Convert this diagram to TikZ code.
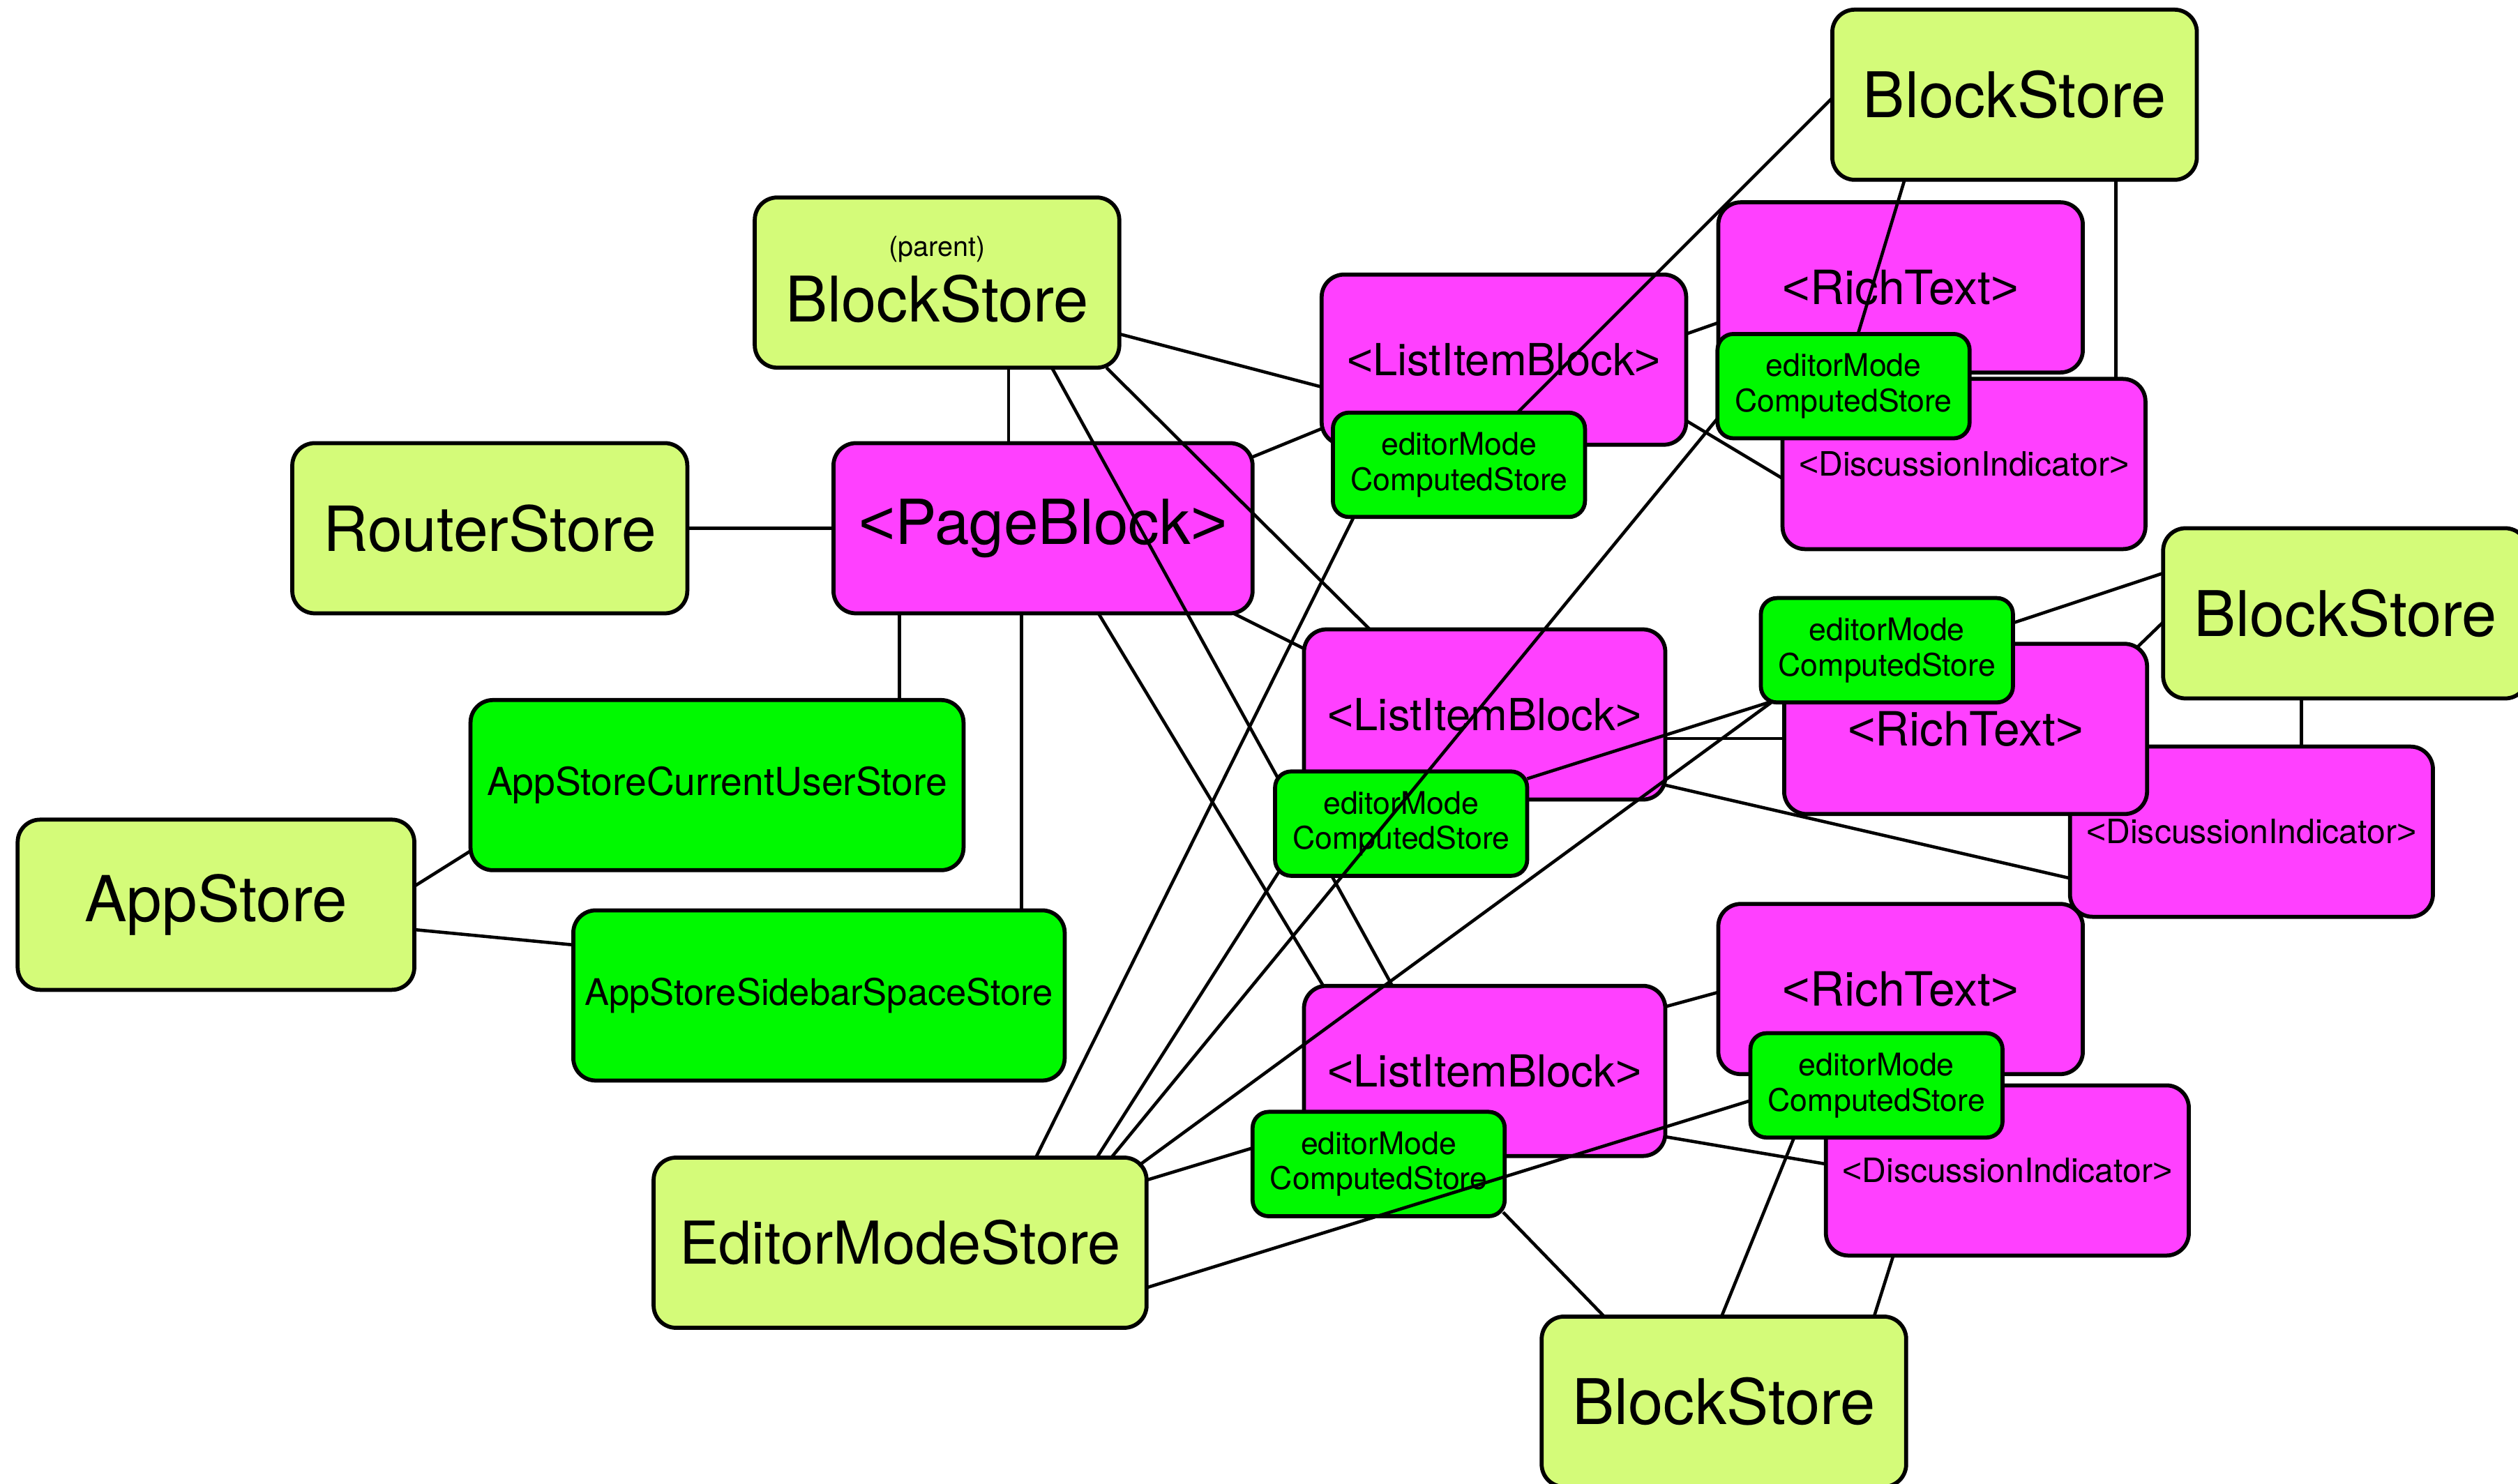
\documentclass[tikz,border=0pt]{standalone}
\usepackage{fontspec}
\setmainfont{TeX Gyre Heros}
\newfontfamily\bracketfont{Liberation Sans}
\newcommand{\LTs}{{\bracketfont<}}
\newcommand{\GTs}{{\bracketfont>}}
\definecolor{honeydew}{HTML}{D4FB79}
\definecolor{magentaC}{HTML}{FF40FF}
\definecolor{springC}{HTML}{00F900}
\begin{document}
\begin{tikzpicture}[x=1pt,y=-1pt,
  box/.style={draw=black, line width=2.5pt, rounded corners=14pt, inner sep=0pt, align=center, text=black},
  store/.style={box, fill=honeydew, minimum width=227pt, minimum height=106pt, font=\fontsize{39.2}{44}\selectfont},
  comp/.style={box, fill=magentaC, minimum width=227pt, minimum height=106pt},
  libtxt/.style={font=\fontsize{27.5}{32}\selectfont},
  rttxt/.style={font=\fontsize{29.4}{33}\selectfont},
  disctxt/.style={font=\fontsize{20.9}{24}\selectfont},
  sub/.style={box, fill=springC, minimum width=307pt, minimum height=106pt},
  emcs/.style={box, fill=springC, rounded corners=10pt, minimum width=157pt, minimum height=65pt, font=\fontsize{19.4}{22}\selectfont},
  link/.style={draw=black, line width=2pt}
]
\useasboundingbox (0,0) rectangle (1568,924);
% stores (lime)
\node[store] (pbs) at (583.5,176) {{\fontsize{17.2}{18}\selectfont (parent)}\\[-3pt]BlockStore\rule[-4.5pt]{0pt}{1pt}};
\node[store, minimum width=246pt, font=\fontsize{38.8}{44}\selectfont] (router) at (305,329) {RouterStore};
\node[store, minimum width=247pt, font=\fontsize{39.5}{44}\selectfont] (app) at (134.5,563.5) {AppStore};
\node[store, minimum width=307pt, font=\fontsize{36.8}{42}\selectfont] (ems) at (560.5,774) {EditorModeStore};
\node[store] (bs1) at (1254.5,59) {BlockStore};
\node[store] (bs2) at (1460.5,382) {BlockStore};
\node[store] (bs3) at (1073.5,873) {BlockStore};
% components (magenta)
\node[comp, minimum width=261pt, font=\fontsize{38.7}{44}\selectfont] (page) at (649.5,329) {\LTs PageBlock\GTs};
\node[comp, libtxt] (lib1) at (936.5,224) {\LTs ListItemBlock\GTs};
\node[comp, libtxt, minimum width=225pt] (lib2) at (924.5,445) {\LTs ListItemBlock\GTs};
\node[comp, libtxt, minimum width=225pt] (lib3) at (924.5,667) {\LTs ListItemBlock\GTs};
\node[comp, disctxt, minimum width=226pt] (di1) at (1223,289) {\LTs DiscussionIndicator\GTs};
\node[comp, rttxt] (rt1) at (1183.5,179) {\LTs RichText\GTs};
\node[comp, disctxt, minimum width=226pt] (di2) at (1402,518) {\LTs DiscussionIndicator\GTs};
\node[comp, rttxt, minimum width=226pt] (rt2) at (1224,454) {\LTs RichText\GTs};
\node[comp, disctxt, minimum width=226pt] (di3) at (1250,729) {\LTs DiscussionIndicator\GTs};
\node[comp, rttxt] (rt3) at (1183.5,616) {\LTs RichText\GTs};
% computed stores (green)
\node[sub, font=\fontsize{24}{28}\selectfont] (cus) at (446.5,489) {AppStoreCurrentUserStore};
\node[sub, minimum width=306pt, font=\fontsize{22.8}{27}\selectfont] (side) at (510,620) {AppStoreSidebarSpaceStore};
\node[emcs] (e1) at (908.5,289.5) {editorMode\\ComputedStore};
\node[emcs] (e2) at (1148,240.5) {editorMode\\ComputedStore};
\node[emcs] (e4) at (1175,405) {editorMode\\ComputedStore};
\node[emcs] (e5) at (858.5,725) {editorMode\\ComputedStore};
\node[emcs] (e6) at (1168.5,676) {editorMode\\ComputedStore};
% line passing under e3
\draw[link] ([shift={(71.5,53)}]pbs.center) -- ([shift={(-57.5,-53)}]lib3.center);
\node[emcs] (e3) at (872.5,513) {editorMode\\ComputedStore};
% connectors
\draw[link] ([shift={(44.5,53)}]pbs.center) -- ([shift={(-21.5,-53)}]page.center);
\draw[link] ([shift={(113.5,32)}]pbs.center) -- ([shift={(-113.5,17)}]lib1.center);
\draw[link] ([shift={(105.5,53)}]pbs.center) -- ([shift={(-71.5,-53)}]lib2.center);
\draw[link] ([shift={(123,0)}]router.center) -- ([shift={(-130.5,0)}]page.center);
\draw[link] ([shift={(129.5,-44)}]page.center) -- ([shift={(-113.5,43)}]lib1.center);
\draw[link] ([shift={(-89.5,53)}]page.center) -- ([shift={(113.5,-53)}]cus.center);
\draw[link] ([shift={(-13.5,53)}]page.center) -- ([shift={(126,-53)}]side.center);
\draw[link] ([shift={(34.5,53)}]page.center) -- ([shift={(-100.5,-53)}]lib3.center);
\draw[link] ([shift={(118.5,53)}]page.center) -- ([shift={(-112.5,-41)}]lib2.center);
\draw[link] ([shift={(123.5,-11.5)}]app.center) -- ([shift={(-153.5,41)}]cus.center);
\draw[link] ([shift={(123.5,15.5)}]app.center) -- ([shift={(-153,-31.5)}]side.center);
\draw[link] ([shift={(84.5,-53)}]ems.center) -- ([shift={(-65.5,32.5)}]e1.center);
\draw[link] ([shift={(122.5,-53)}]ems.center) -- ([shift={(-75.5,29)}]e3.center);
\draw[link] ([shift={(131.5,-53)}]ems.center) -- ([shift={(-78,19.5)}]e2.center);
\draw[link] ([shift={(148.5,-48)}]ems.center) -- ([shift={(-72,32.5)}]e4.center);
\draw[link] ([shift={(153.5,-39)}]ems.center) -- ([shift={(-78.5,-10)}]e5.center);
\draw[link] ([shift={(153.5,28)}]ems.center) -- ([shift={(-78.5,9.5)}]e6.center);
\draw[link] ([shift={(-113.5,2)}]bs1.center) -- ([shift={(36.5,-32.5)}]e1.center);
\draw[link] ([shift={(-68.5,53)}]bs1.center) -- ([shift={(9,-32.5)}]e2.center);
\draw[link] ([shift={(63,53)}]bs1.center) -- ([shift={(94.5,-53)}]di1.center);
\draw[link] ([shift={(-113.5,-25)}]bs2.center) -- ([shift={(78.5,-17)}]e4.center);
\draw[link] ([shift={(-113.5,5.5)}]bs2.center) -- ([shift={(107,-51)}]rt2.center);
\draw[link] ([shift={(-27.5,53)}]bs2.center) -- ([shift={(31,-53)}]di2.center);
\draw[link] ([shift={(77.5,30)}]e5.center) -- ([shift={(-74.5,-53)}]bs3.center);
\draw[link] ([shift={(-51.5,33)}]e6.center) -- ([shift={(-1.5,-53)}]bs3.center);
\draw[link] ([shift={(-71,53)}]di3.center) -- ([shift={(93.5,-53)}]bs3.center);
\draw[link] ([shift={(113.5,-16)}]lib1.center) -- ([shift={(-113.5,22)}]rt1.center);
\draw[link] ([shift={(113.5,38)}]lib1.center) -- ([shift={(-113,9)}]di1.center);
\draw[link] ([shift={(112.5,15)}]lib2.center) -- ([shift={(-113,6)}]rt2.center);
\draw[link] ([shift={(112.5,44)}]lib2.center) -- ([shift={(-113,29)}]di2.center);
\draw[link] ([shift={(112.5,-40)}]lib3.center) -- ([shift={(-113.5,2)}]rt3.center);
\draw[link] ([shift={(112.5,41)}]lib3.center) -- ([shift={(-113,-4)}]di3.center);
\draw[link] ([shift={(78.5,-28)}]e3.center) -- ([shift={(-72,32)}]e4.center);
\end{tikzpicture}
\end{document}
